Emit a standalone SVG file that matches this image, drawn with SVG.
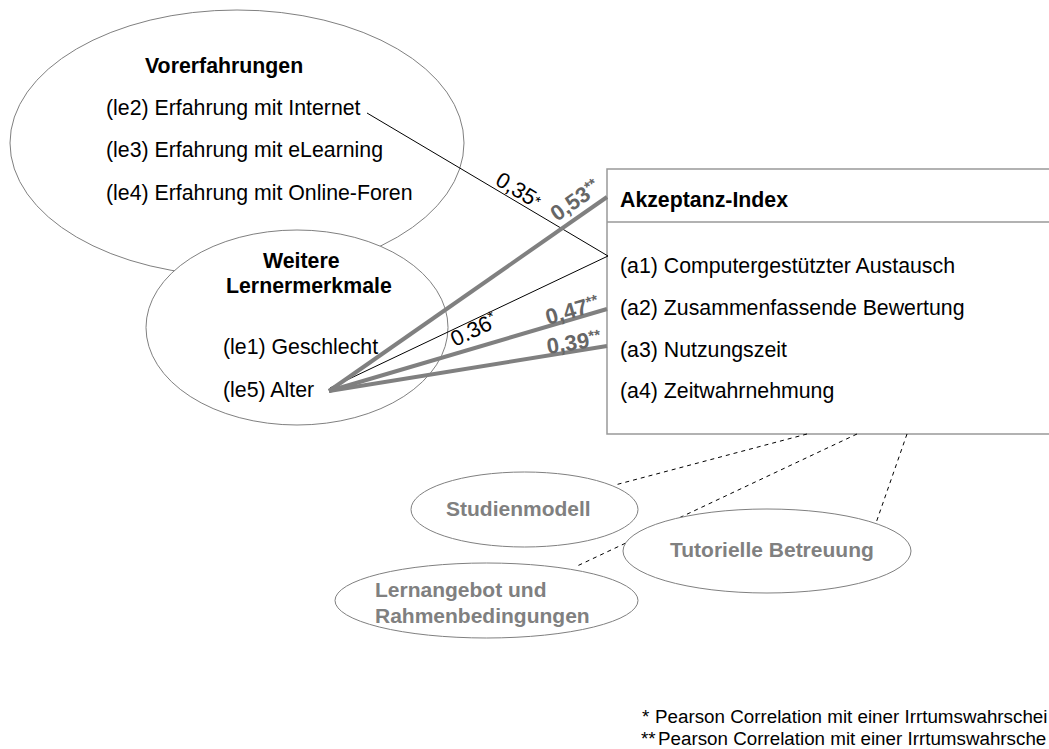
<svg xmlns="http://www.w3.org/2000/svg" width="1049" height="749" viewBox="0 0 1049 749">
  <style>
    text { font-family: "Liberation Sans", Arial, sans-serif; }
    .lbl { font-size: 21.3px; fill: #000; }
    .ttl { font-size: 21.3px; font-weight: bold; fill: #000; }
    .sub { font-size: 21px; font-weight: bold; fill: #808080; }
    .outline { fill: #fff; stroke: #808080; stroke-width: 1; }
    .thin { stroke: #000; stroke-width: 1; fill: none; }
    .thick { stroke: #808080; stroke-width: 4; fill: none; }
    .dash { stroke: #000; stroke-width: 1; stroke-dasharray: 4 4; fill: none; }
    .coef { font-size: 22px; fill: #000; }
    .coefb { font-size: 22px; font-weight: bold; fill: #666; }
    .star { font-size: 15px; }
    .note { font-size: 18.8px; fill: #000; }
  </style>

  <!-- prior experience -->
  <g id="vorerfahrungen">
    <ellipse class="outline" cx="237" cy="143" rx="227" ry="133"/>
    <text class="ttl" x="145" y="73">Vorerfahrungen</text>
    <text class="lbl" x="106" y="115">(le2) Erfahrung mit Internet</text>
    <text class="lbl" x="106" y="157">(le3) Erfahrung mit eLearning</text>
    <text class="lbl" x="106" y="200">(le4) Erfahrung mit Online-Foren</text>
  </g>

  <!-- further learner characteristics -->
  <g id="lernermerkmale">
    <ellipse class="outline" cx="297" cy="327.5" rx="151" ry="97.5"/>
    <text class="ttl" x="263" y="268">Weitere</text>
    <text class="ttl" x="226" y="293">Lernermerkmale</text>
    <text class="lbl" x="223" y="354">(le1) Geschlecht</text>
    <text class="lbl" x="223" y="397">(le5) Alter</text>
  </g>

  <!-- acceptance index box -->
  <g id="akzeptanz">
    <rect x="607" y="169" width="470" height="265" fill="#fff" stroke="#999" stroke-width="1.5"/>
    <line x1="607" y1="222" x2="1077" y2="222" stroke="#999" stroke-width="1.5"/>
    <text class="ttl" x="620" y="207">Akzeptanz-Index</text>
    <text class="lbl" x="620" y="273">(a1) Computergestützter Austausch</text>
    <text class="lbl" x="620" y="315">(a2) Zusammenfassende Bewertung</text>
    <text class="lbl" x="620" y="357">(a3) Nutzungszeit</text>
    <text class="lbl" x="620" y="398">(a4) Zeitwahrnehmung</text>
  </g>

  <!-- correlations and context links -->
  <g id="connectors">
    <line class="thin" x1="367" y1="113" x2="608" y2="256"/>
    <line class="thin" x1="330" y1="388" x2="608" y2="256"/>
    <line class="thick" x1="329" y1="391" x2="607" y2="197"/>
    <line class="thick" x1="329" y1="391" x2="607" y2="309"/>
    <line class="thick" x1="329" y1="391" x2="607" y2="346"/>

    <line class="dash" x1="807" y1="434" x2="615" y2="485"/>
    <line class="dash" x1="857" y1="434" x2="575" y2="567"/>
    <line class="dash" x1="907" y1="434" x2="876" y2="523"/>

    <text class="coef" transform="translate(494,184) rotate(31)">0,35<tspan class="star" dy="-2">*</tspan></text>
    <text class="coef" transform="translate(455,347) rotate(-25.5)">0.36<tspan class="star" dy="-7">*</tspan></text>
    <text class="coefb" transform="translate(557,222) rotate(-35)">0,53<tspan class="star" dy="-6">**</tspan></text>
    <text class="coefb" transform="translate(548,325) rotate(-16)">0,47<tspan class="star" dy="-6">**</tspan></text>
    <text class="coefb" transform="translate(548,354) rotate(-9)">0,39<tspan class="star" dy="-6">**</tspan></text>
  </g>

  <g id="studienmodell">
    <ellipse class="outline" cx="524.5" cy="509.5" rx="113.5" ry="37.5"/>
    <text class="sub" x="446" y="516">Studienmodell</text>
  </g>

  <g id="tutorielle-betreuung">
    <ellipse class="outline" cx="767" cy="551" rx="144" ry="42"/>
    <text class="sub" x="670" y="557">Tutorielle Betreuung</text>
  </g>

  <g id="lernangebot">
    <ellipse class="outline" cx="486.5" cy="600.5" rx="151.5" ry="37.5"/>
    <text class="sub" x="375" y="597">Lernangebot und</text>
    <text class="sub" x="375" y="623">Rahmenbedingungen</text>
  </g>

  <!-- significance notes -->
  <g id="legende">
    <text class="note" x="642" y="723">*<tspan x="655">Pearson Correlation mit einer Irrtumswahrschei</tspan></text>
    <text class="note" x="641" y="745">**<tspan x="658">Pearson Correlation mit einer Irrtumswahrsche</tspan></text>
  </g>
</svg>
